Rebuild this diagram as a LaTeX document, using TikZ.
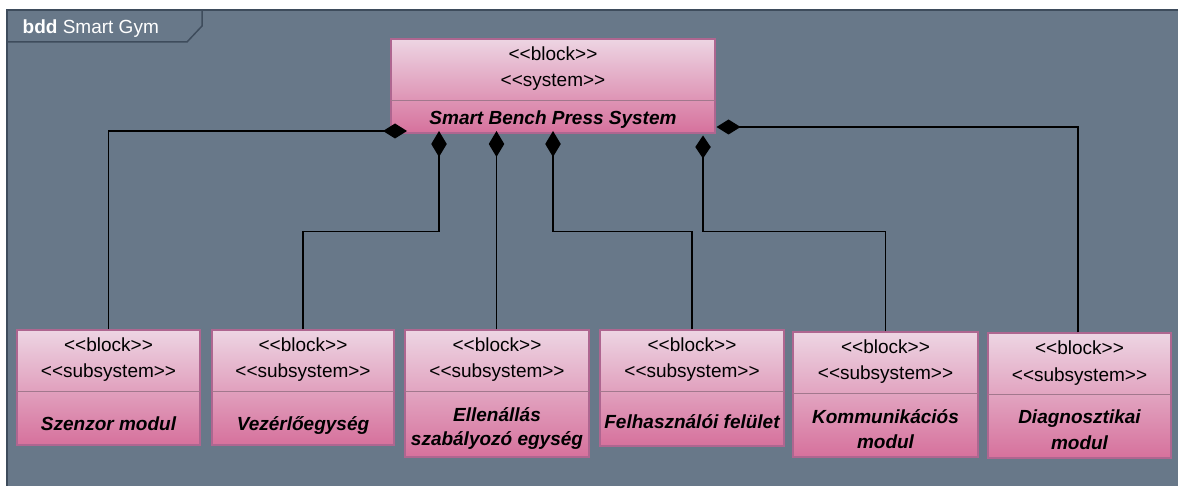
\documentclass[tikz,border=0pt]{standalone}
\usepackage{fontspec}
\setmainfont{Liberation Sans}[Ligatures=TeXOff]
\usetikzlibrary{arrows.meta,shadings}

\definecolor{framebg}{HTML}{687889}
\definecolor{frameline}{HTML}{3E4C5C}
\definecolor{pinktop}{HTML}{EDD5E3}
\definecolor{pinkbot}{HTML}{D6719C}
\definecolor{pinkline}{HTML}{AE6690}
\definecolor{divline}{HTML}{A2788D}

\tikzset{
  blockbox/.style={draw=pinkline, line width=1.2pt, top color=pinktop, bottom color=pinkbot,
    rectangle, inner sep=0pt},
  divider/.style={draw=divline, line width=1pt},
  stereo/.style={anchor=base, inner sep=0pt, font=\fontsize{19}{23}\selectfont},
  bname/.style={anchor=base, inner sep=0pt, font=\fontsize{19}{23}\selectfont\bfseries\itshape},
  comp/.style={draw=black, line width=1.7pt, -{Diamond[length=26pt,width=15.5pt]}},
  compshort/.style={draw=black, line width=1.7pt, -{Diamond[length=23pt,width=15.5pt]}},
  comph/.style={draw=black, line width=1.7pt, -{Diamond[length=24pt,width=15pt]}},
}

\begin{document}
\begin{tikzpicture}[x=1pt,y=-1pt]
  \useasboundingbox (0,0) rectangle (1178,486);
  \fill[white] (0,0) rectangle (1178,486);

  % diagram frame with its name tab
  \fill[framebg] (7,10) rectangle (1178,486);
  \draw[frameline, line width=1.5pt] (7,486) -- (7,10) -- (1178,10);
  \draw[frameline, line width=1.5pt] (7,42) -- (187,42) -- (202,26) -- (202,10);
  \node[anchor=base west, inner sep=0pt, text=white, font=\fontsize{19}{23}\selectfont] (title)
    at (22.5,34) {\textbf{bdd} Smart Gym};

  % system block
  \node[blockbox, minimum width=324pt, minimum height=94pt] (main) at (553,86) {};
  \draw[divider] (391,101) -- (715,101);
  \node[stereo] (main-s1) at (553,60.5) {<<block>>};
  \node[stereo] (main-s2) at (553,86.7) {<<system>>};
  \node[bname] (main-n) at (553,125) {Smart Bench Press System};

  % subsystem blocks
  \node[blockbox, minimum width=183pt, minimum height=115pt] (szen) at (108.5,387.5) {};
  \draw[divider] (17,391) -- (200,391);
  \node[stereo] at (108.5,351.5) {<<block>>};
  \node[stereo] at (108.5,377.5) {<<subsystem>>};
  \node[bname] (szen-n) at (108.5,430) {Szenzor modul};

  \node[blockbox, minimum width=182pt, minimum height=115pt] (vez) at (303,387.5) {};
  \draw[divider] (212,391) -- (394,391);
  \node[stereo] at (303,351.5) {<<block>>};
  \node[stereo] at (303,377.5) {<<subsystem>>};
  \node[bname] (vez-n) at (303,430) {Vezérlőegység};

  \node[blockbox, minimum width=184pt, minimum height=127pt] (ell) at (497,393.5) {};
  \draw[divider] (405,391) -- (589,391);
  \node[stereo] at (497,351.5) {<<block>>};
  \node[stereo] at (497,377.5) {<<subsystem>>};
  \node[bname] (ell-n1) at (497,421.5) {Ellenállás};
  \node[bname] (ell-n2) at (497,445.5) {szabályozó egység};

  \node[blockbox, minimum width=184pt, minimum height=116pt] (fel) at (692,388) {};
  \draw[divider] (600,391) -- (784,391);
  \node[stereo] at (692,351.5) {<<block>>};
  \node[stereo] at (692,377.5) {<<subsystem>>};
  \node[bname] (fel-n) at (692,428) {Felhasználói felület};

  \node[blockbox, minimum width=185pt, minimum height=125pt] (kom) at (885.5,394.5) {};
  \draw[divider] (793,393) -- (978,393);
  \node[stereo] at (885.5,353) {<<block>>};
  \node[stereo] at (885.5,379.5) {<<subsystem>>};
  \node[bname] (kom-n1) at (885.5,423) {Kommunikációs};
  \node[bname] (kom-n2) at (885.5,448) {modul};

  \node[blockbox, minimum width=183pt, minimum height=125pt] (diag) at (1079.5,395.5) {};
  \draw[divider] (988,394) -- (1171,394);
  \node[stereo] at (1079.5,354.5) {<<block>>};
  \node[stereo] at (1079.5,381) {<<subsystem>>};
  \node[bname] (diag-n1) at (1079.5,423.5) {Diagnosztikai};
  \node[bname] (diag-n2) at (1079.5,449) {modul};

  % part ends of the composition links on the system block
  \coordinate (p-szen) at (407,131);
  \coordinate (p-vez)  at (439,131);
  \coordinate (p-ell)  at (496.5,131);
  \coordinate (p-fel)  at (553,131);
  \coordinate (p-kom)  at (703,135.5);
  \coordinate (p-diag) at (716.5,127);

  % composition links
  \draw[comph] (szen.north) |- (p-szen);
  \draw[comp] (vez.north) -- ++(0,-98) -| (p-vez);
  \draw[comp] (ell.north -| p-ell) -- (p-ell);
  \draw[comp] (fel.north) -- ++(0,-98) -| (p-fel);
  \draw[compshort] (kom.north) -- ++(0,-100) -| (p-kom);
  \draw[comph] ([xshift=-1.5pt]diag.north) |- (p-diag);
\end{tikzpicture}
\end{document}
